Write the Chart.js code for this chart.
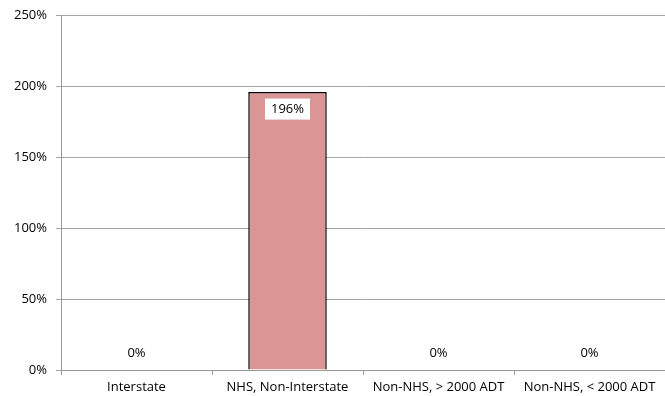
<!DOCTYPE html>
<html>
<head>
<meta charset="utf-8">
<script src="https://cdn.jsdelivr.net/npm/chart.js@4/dist/chart.umd.min.js"></script>
<style>
  html, body { margin: 0; padding: 0; background: #fff; }
  #wrap { width: 665px; height: 396px; }
</style>
</head>
<body>
<div id="wrap"><canvas id="chart"></canvas></div>
<script>
// data
const categories = ['Interstate', 'NHS, Non-Interstate', 'Non-NHS, > 2000 ADT', 'Non-NHS, < 2000 ADT'];
const values = [0, 196, 0, 0];
const yTicks = [0, 50, 100, 150, 200, 250];

const FONT = '"Open Sans", "Noto Sans", sans-serif';

// value labels: "0%" above empty bars, boxed label inside tall bars
const valueLabels = {
    id: 'valueLabels',
    afterDatasetsDraw(chart) {
        const ctx = chart.ctx;
        const meta = chart.getDatasetMeta(0);
        ctx.save();
        ctx.font = '13px ' + FONT;
        ctx.textAlign = 'center';
        ctx.textBaseline = 'middle';
        meta.data.forEach((bar, i) => {
            const text = values[i] + '%';
            if (values[i] > 20) {
                const w = ctx.measureText(text).width + 12;
                const h = 21;
                const y = bar.y + 17;
                ctx.fillStyle = '#fff';
                ctx.fillRect(bar.x - w / 2, y - h / 2, w, h);
                ctx.fillStyle = '#000';
                ctx.fillText(text, bar.x, y);
            } else {
                ctx.fillStyle = '#000';
                ctx.fillText(text, bar.x, bar.y - 17);
            }
        });
        ctx.restore();
    }
};

new Chart(document.getElementById('chart'), {
    type: 'bar',
    data: {
        labels: categories,
        datasets: [{
            data: values,
            backgroundColor: '#D99694',
            borderColor: '#000',
            borderWidth: 1.5,
            categoryPercentage: 0.52,
            barPercentage: 1
        }]
    },
    options: {
        responsive: true,
        maintainAspectRatio: false,
        animation: false,
        layout: { padding: { top: 11, right: 0, left: 0, bottom: 0 } },
        plugins: {
            legend: { display: false },
            tooltip: { enabled: false }
        },
        scales: {
            x: {
                grid: {
                    offset: true,
                    drawOnChartArea: false,
                    tickLength: 5,
                    color: '#999'
                },
                border: { color: '#999' },
                ticks: {
                    color: '#000',
                    font: { family: FONT, size: 13 },
                    maxRotation: 0,
                    padding: 4
                },
                afterFit(scale) { scale.height = 26; }
            },
            y: {
                min: 0,
                max: 250,
                afterBuildTicks(scale) {
                    scale.ticks = yTicks.map(v => ({ value: v }));
                },
                grid: {
                    color: '#a6a6a6',
                    tickLength: 5
                },
                border: { color: '#999' },
                ticks: {
                    color: '#000',
                    font: { family: FONT, size: 13, lineHeight: 1 },
                    padding: 9,
                    callback: v => v + '%'
                },
                afterFit(scale) { scale.width = 61; }
            }
        }
    },
    plugins: [valueLabels]
});
</script>
</body>
</html>
